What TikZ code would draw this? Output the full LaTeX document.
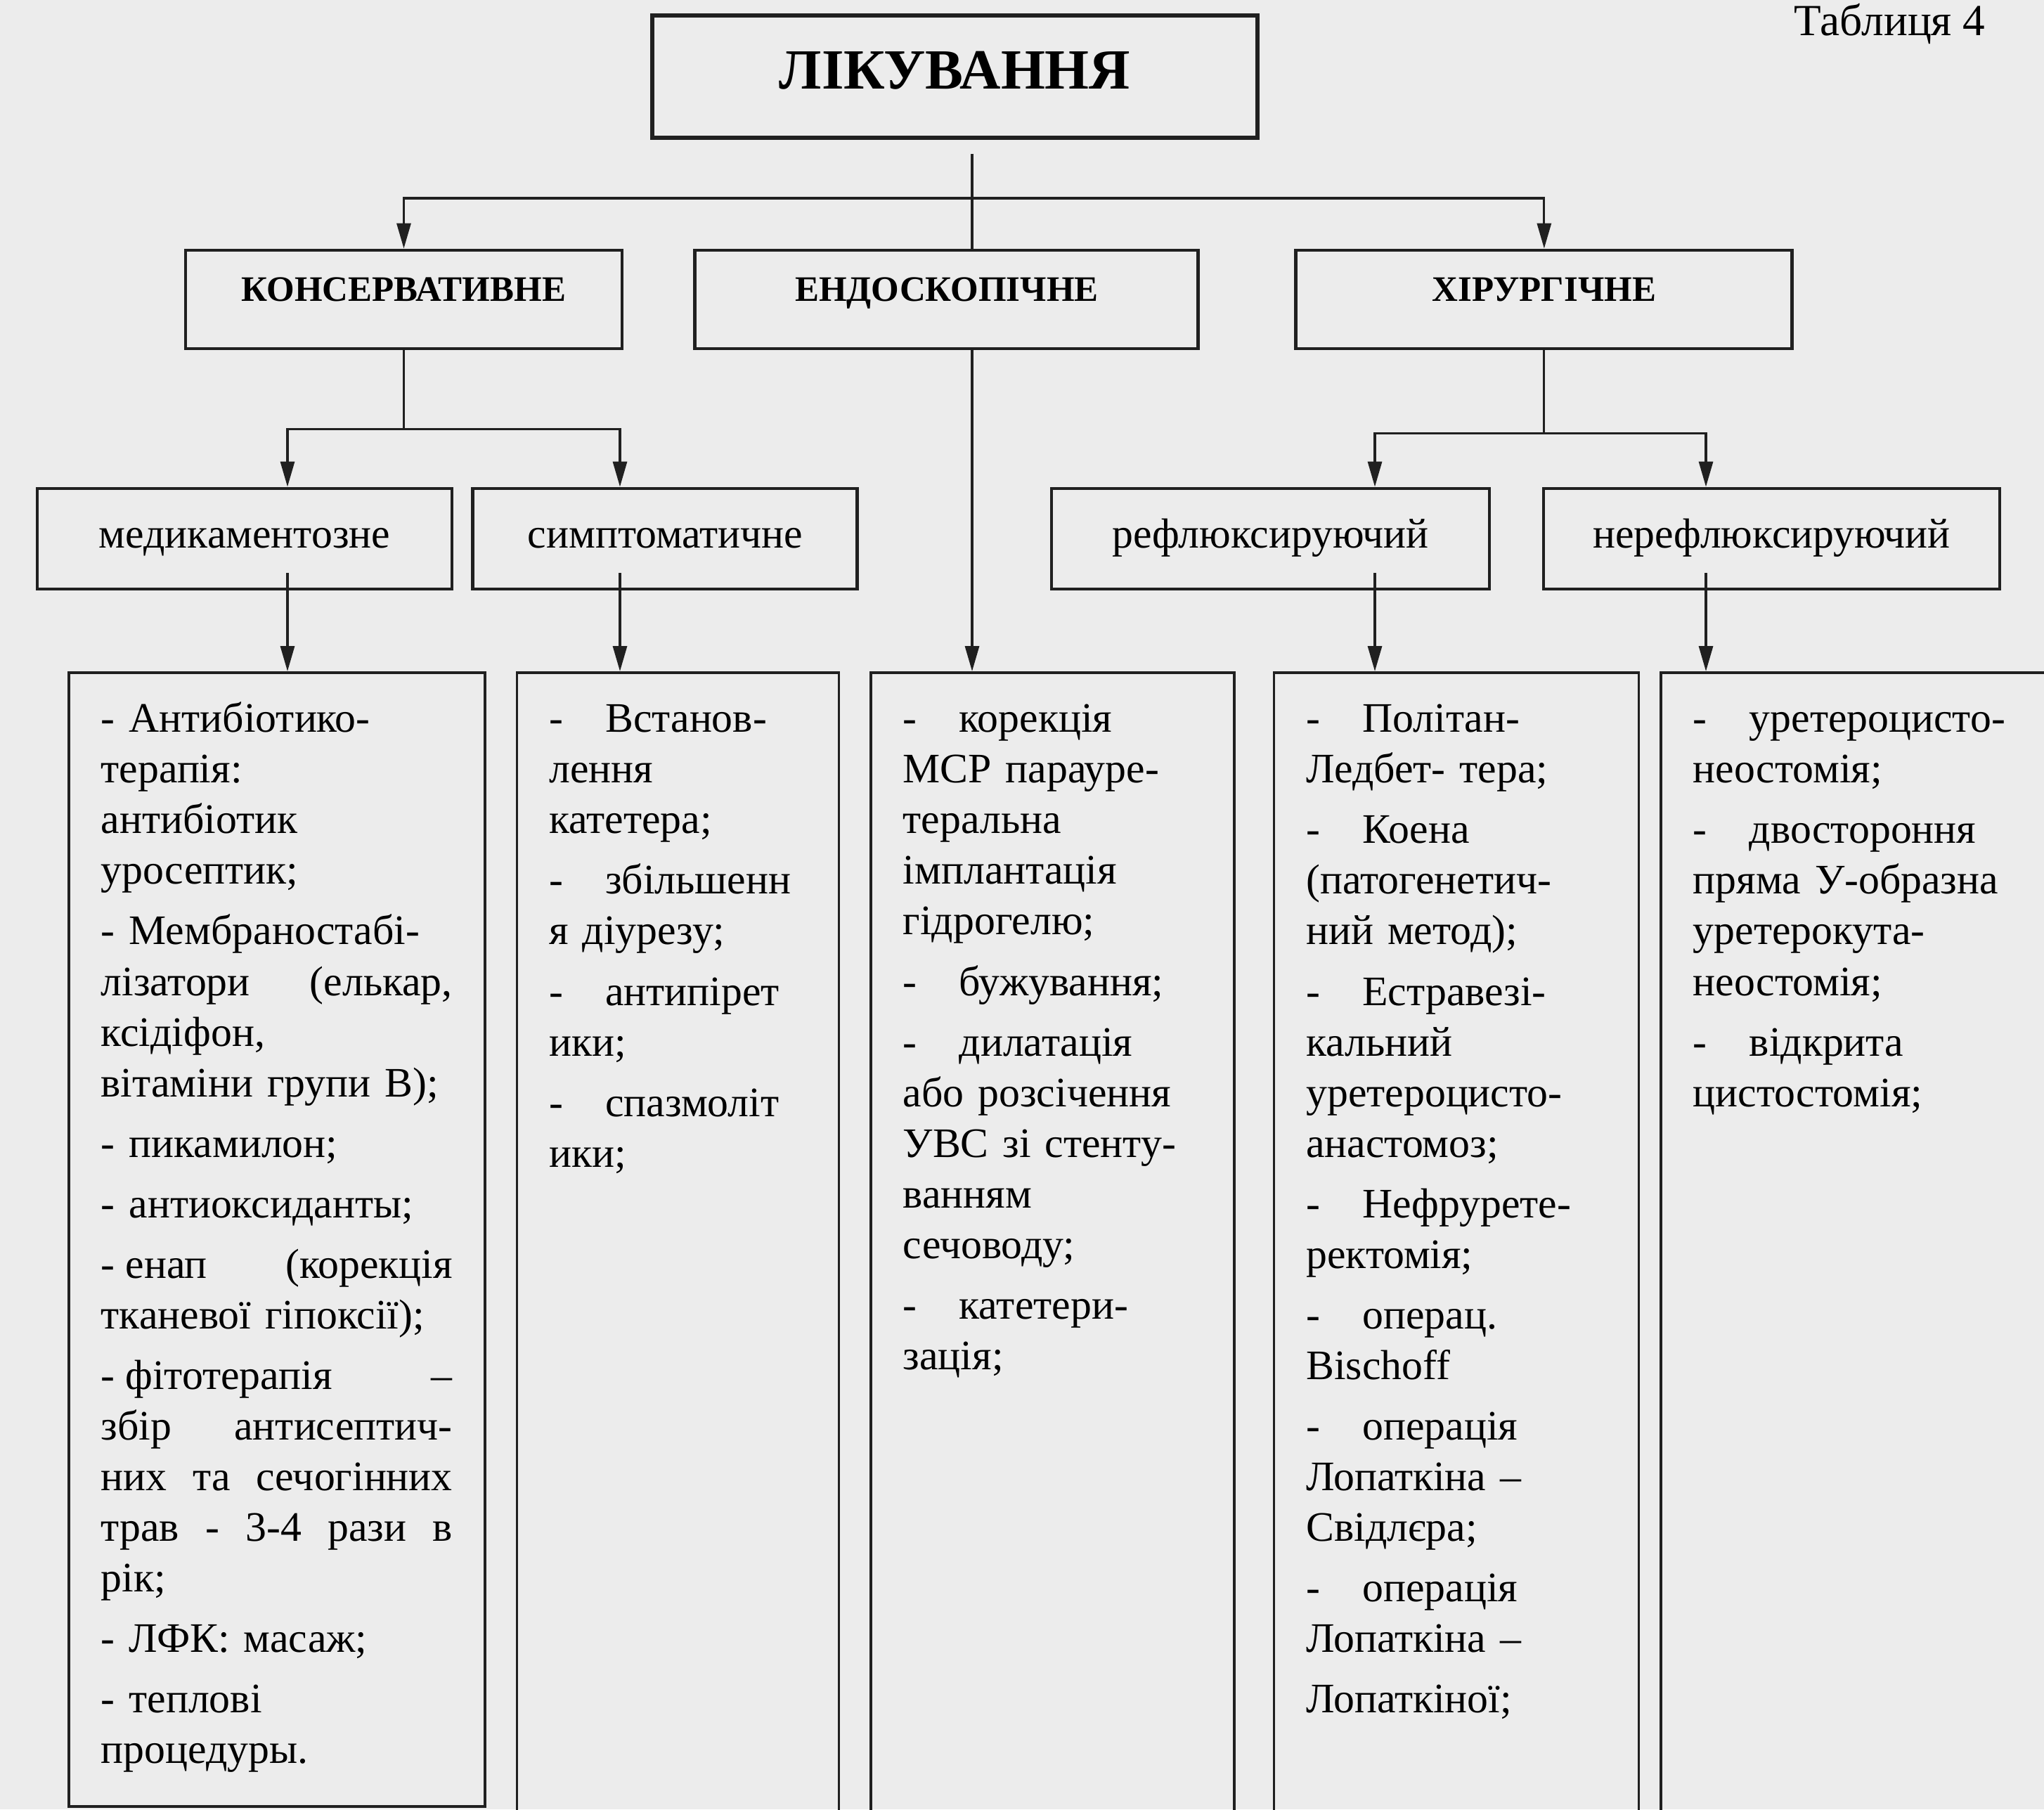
\documentclass[tikz,border=0pt]{standalone}
\usepackage{fontspec}
\setmainfont{Liberation Serif}
\usetikzlibrary{arrows.meta,positioning,calc}
\definecolor{paper}{RGB}{236,236,236}
\definecolor{ink}{RGB}{32,32,32}
% dash with a wide gap after it, and a line stretched to full width
\newcommand{\dd}{\makebox[0.8cm][l]{-}}
\newcommand{\jl}[1]{{\spaceskip=.25em plus 1fil\makebox[\linewidth][s]{#1}}}

\begin{document}
\begin{tikzpicture}[
            rootblock/.style={draw=ink,line width=1.5pt,minimum width=8.61cm,inner ysep=0pt,
                              text height=1.04cm,text depth=0.70cm,font=\fontsize{23}{27}\selectfont\bfseries},
            block/.style={draw=ink,line width=1.4pt,inner xsep=0pt,inner ysep=0pt,
                          text height=0.72cm,text depth=0.68cm,font=\fontsize{14.5}{17}\selectfont\bfseries},
            subblock/.style={draw=ink,line width=1.4pt,inner sep=0pt,
                             text height=0.84cm,text depth=0.59cm,font=\fontsize{17}{20}\selectfont},
            listblock/.style={draw=ink,line width=1pt,anchor=north west,align=left,
                              inner xsep=0.46cm,inner ysep=0.44cm,text height=0.41cm,
                              font=\fontsize{17}{20.5}\selectfont},
            conn/.style={draw=ink,line width=0.9pt},
            arr/.style={conn,-{Triangle[length=0.36cm,width=0.2cm]}}
        ]
        \path[use as bounding box,fill=paper] (0,0) rectangle (29.08,-25.74);
        % columns of the arrows
        \coordinate (c1) at (4.09,0);
        \coordinate (c2) at (8.82,0);
        \coordinate (c3) at (13.83,0);
        \coordinate (c4) at (19.56,0);
        \coordinate (c5) at (24.27,0);
        \coordinate (hub) at (13.83,-2.82);

        \node[font=\fontsize{18}{21}\selectfont,anchor=base east,inner sep=0pt] (tabl) at (28.25,-0.50) {Таблиця 4};
        \node[rootblock] (root) at (13.585,-1.09) {ЛІКУВАННЯ};

        % kinds of treatment
        \node[block,minimum width=6.21cm] (kons) at (5.745,-4.26) {КОНСЕРВАТИВНЕ};
        \node[block,minimum width=7.16cm,right=0.99cm of kons] (endo) {ЕНДОСКОПІЧНЕ};
        \node[block,minimum width=7.06cm,right=1.34cm of endo] (khir) {ХІРУРГІЧНЕ};

        % second level
        \node[subblock,minimum width=5.90cm] (med) at (3.48,-7.665) {медикаментозне};
        \node[subblock,minimum width=5.47cm,right=0.25cm of med] (simp) {симптоматичне};
        \node[subblock,minimum width=6.23cm] (refl) at (18.075,-7.665) {рефлюксируючий};
        \node[subblock,minimum width=6.49cm,right=0.72cm of refl] (neref) {нерефлюксируючий};

        % lists
        \node[listblock,text width=5.00cm,text depth=14.84cm] (l1) at (0.96,-9.55) {%
            - Антибіотико-\\
            терапія:\\
            антибіотик\\
            уросептик;\\[0.14cm]
            - Мембраностабі-\\
            \jl{лізатори (елькар,}\\
            ксідіфон,\\
            вітаміни групи В);\\[0.14cm]
            - пикамилон;\\[0.14cm]
            - антиоксиданты;\\[0.14cm]
            \jl{-\kern.25em енап (корекція}\\
            тканевої гіпоксії);\\[0.14cm]
            \jl{-\kern.25em фітотерапія –}\\
            \jl{збір антисептич-}\\
            \jl{них та сечогінних}\\
            \jl{трав - 3-4 рази в}\\
            рік;\\[0.14cm]
            - ЛФК: масаж;\\[0.14cm]
            - теплові\\
            процедуры.};
        \node[listblock,text width=3.66cm,text depth=15.4cm,right=0.42cm of l1.north east,anchor=north west] (l2) {%
            \dd Встанов-\\
            лення\\
            катетера;\\[0.14cm]
            \dd збільшенн\\
            я діурезу;\\[0.14cm]
            \dd антипірет\\
            ики;\\[0.14cm]
            \dd спазмоліт\\
            ики;};
        \node[listblock,text width=4.25cm,text depth=15.4cm,right=0.42cm of l2.north east,anchor=north west] (l3) {%
            \dd корекція\\
            МСР парауре-\\
            теральна\\
            імплантація\\
            гідрогелю;\\[0.14cm]
            \dd бужування;\\[0.14cm]
            \dd дилатація\\
            або розсічення\\
            УВС зі стенту-\\
            ванням\\
            сечоводу;\\[0.14cm]
            \dd катетери-\\
            зація;};
        \node[listblock,text width=4.27cm,text depth=15.4cm,right=0.53cm of l3.north east,anchor=north west] (l4) {%
            \dd Політан-\\
            Ледбет- тера;\\[0.14cm]
            \dd Коена\\
            (патогенетич-\\
            ний метод);\\[0.14cm]
            \dd Естравезі-\\
            кальний\\
            уретероцисто-\\
            анастомоз;\\[0.14cm]
            \dd Нефрурете-\\
            ректомія;\\[0.14cm]
            \dd операц.\\
            Bischoff\\[0.14cm]
            \dd операція\\
            Лопаткіна –\\
            Свідлєра;\\[0.14cm]
            \dd операція\\
            Лопаткіна –\\[0.14cm]
            Лопаткіної;};
        \node[listblock,text width=4.56cm,text depth=15.4cm,right=0.28cm of l4.north east,anchor=north west] (l5) {%
            \dd уретероцисто-\\
            неостомія;\\[0.14cm]
            \dd двостороння\\
            пряма У-образна\\
            уретерокута-\\
            неостомія;\\[0.14cm]
            \dd відкрита\\
            цистостомія;};

        % from the root
        \coordinate (rootfoot) at ($(root.south)+(0,-0.2)$);
        \draw[conn] (rootfoot -| hub) -- (endo.north -| hub);
        \draw[arr] (hub) -| (kons.north);
        \draw[arr] (hub) -| (khir.north);
        % conservative and surgical branches
        \coordinate (ksplit) at ($(kons.south)+(0,-1.12)$);
        \coordinate (xsplit) at ($(khir.south)+(0,-1.18)$);
        \draw[conn] (kons.south) -- (ksplit);
        \draw[arr] (ksplit) -| (med.north -| c1);
        \draw[arr] (ksplit) -| (simp.north -| c2);
        \draw[conn] (khir.south) -- (xsplit);
        \draw[arr] (xsplit) -| (refl.north -| c4);
        \draw[arr] (xsplit) -| (neref.north -| c5);
        % down to the lists
        \draw[arr] ($(med.south -| c1)+(0,0.25)$) -- (l1.north -| c1);
        \draw[arr] ($(simp.south -| c2)+(0,0.25)$) -- (l2.north -| c2);
        \draw[arr] (endo.south -| c3) -- (l3.north -| c3);
        \draw[arr] ($(refl.south -| c4)+(0,0.25)$) -- (l4.north -| c4);
        \draw[arr] ($(neref.south -| c5)+(0,0.25)$) -- (l5.north -| c5);
\end{tikzpicture}
\end{document}
